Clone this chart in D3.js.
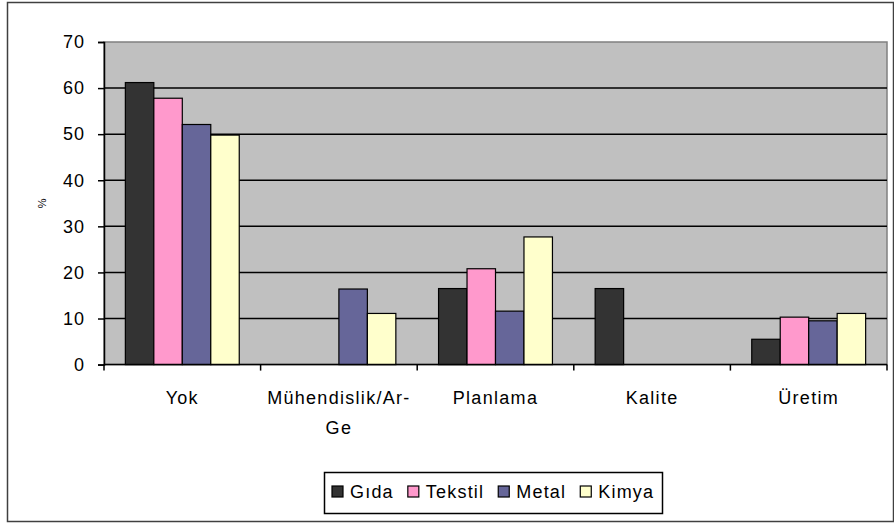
<!DOCTYPE html>
<html>
<head>
<meta charset="utf-8">
<script src="https://cdn.jsdelivr.net/npm/d3@7"></script>
<style>
  body { margin: 0; background: #fff; }
  text { font-family: Arial, "Liberation Sans", sans-serif; }
</style>
</head>
<body>
<script>
// data
const categories = ["Yok", "Mühendislik/Ar-Ge", "Planlama", "Kalite", "Üretim"]
const series = ["Gıda", "Tekstil", "Metal", "Kimya"]
const gida    = [61.2, 0,    16.5, 16.5, 5.5]
const tekstil = [57.8, 0,    20.8, 0,    10.3]
const metal   = [52.1, 16.4, 11.6, 0,    9.5]
const kimya   = [49.8, 11.1, 27.7, 0,    11.1]
const yTicks = [0, 10, 20, 30, 40, 50, 60, 70]
const colors = ["#333333", "#FF99CC", "#666699", "#FFFFCC"]

const values = [gida, tekstil, metal, kimya]

const width = 894, height = 525
const plot = {left: 104, right: 887, top: 42, bottom: 364.6}

let svg = d3.select("body")
  .append("svg")
  .attr("width", width)
  .attr("height", height)

// outer chart border
svg.append("rect")
  .attr("x", 7.5).attr("y", 2.5)
  .attr("width", 886).attr("height", 519)
  .attr("fill", "#fff")
  .attr("stroke", "#404040")
  .attr("stroke-width", 1.5)

// scales
const x0 = d3.scaleBand()
  .domain(categories)
  .range([plot.left, plot.right])

const bw = x0.bandwidth()
const gap = bw * 1.5 / 5.5
const x1 = d3.scaleBand()
  .domain(series)
  .range([gap / 2, bw - gap / 2])

const y = d3.scaleLinear()
  .domain([0, 70])
  .range([plot.bottom, plot.top])

// plot background
svg.append("rect")
  .attr("x", plot.left).attr("y", plot.top)
  .attr("width", plot.right - plot.left)
  .attr("height", plot.bottom - plot.top)
  .attr("fill", "#C0C0C0")
  .attr("stroke", "#808080")
  .attr("stroke-width", 1.5)

// gridlines
svg.append("g")
  .selectAll("line")
  .data(yTicks.filter(d => d > 0 && d < 70))
  .enter()
  .append("line")
  .attr("x1", plot.left).attr("x2", plot.right)
  .attr("y1", d => y(d)).attr("y2", d => y(d))
  .attr("stroke", "#000")
  .attr("stroke-width", 1.5)

// bars
const groups = svg.append("g")
  .selectAll("g")
  .data(series)
  .enter()
  .append("g")
  .attr("fill", (d, i) => colors[i])

groups.each(function(s, si) {
  d3.select(this).selectAll("rect")
    .data(categories.map((c, ci) => ({cat: c, v: values[si][ci]})).filter(d => d.v > 0))
    .enter()
    .append("rect")
    .attr("x", d => x0(d.cat) + x1(s))
    .attr("y", d => y(d.v))
    .attr("width", x1.bandwidth())
    .attr("height", d => y(0) - y(d.v))
    .attr("stroke", "#000")
    .attr("stroke-width", 1.2)
})

// y axis
const yAxis = svg.append("g")
  .attr("transform", `translate(${plot.left},0)`)
  .call(d3.axisLeft(y).tickValues(yTicks).tickSize(6).tickPadding(13))
yAxis.select(".domain").attr("stroke", "#000").attr("stroke-width", 1.5)
yAxis.selectAll(".tick line").attr("stroke", "#000").attr("stroke-width", 1.5)
yAxis.selectAll(".tick text")
  .attr("fill", "#000")
  .style("font-size", "18px")
  .style("letter-spacing", "1px")

// x axis: ticks on category boundaries
const xAxis = svg.append("g")
xAxis.append("line")
  .attr("x1", plot.left).attr("x2", plot.right)
  .attr("y1", y(0)).attr("y2", y(0))
  .attr("stroke", "#000").attr("stroke-width", 1.5)
xAxis.selectAll(".xtick")
  .data(categories.concat(["end"]))
  .enter()
  .append("line")
  .attr("x1", d => d == "end" ? plot.right : x0(d))
  .attr("x2", d => d == "end" ? plot.right : x0(d))
  .attr("y1", y(0)).attr("y2", y(0) + 6)
  .attr("stroke", "#000").attr("stroke-width", 1.5)

// category labels, wrapped after "Ar-"
function wrap(label) {
  const i = label.indexOf("Ar-")
  return i > 0 ? [label.slice(0, i + 3), label.slice(i + 3)] : [label]
}
xAxis.selectAll(".xlabel")
  .data(categories)
  .enter()
  .append("text")
  .attr("text-anchor", "middle")
  .style("font-size", "18px")
  .style("letter-spacing", "1.3px")
  .each(function(d) {
    const t = d3.select(this)
    wrap(d).forEach((line, i) => {
      t.append("tspan")
        .attr("x", x0(d) + bw / 2)
        .attr("y", 403.5 + i * 30)
        .text(line)
    })
  })

// y axis title
svg.append("text")
  .text("%")
  .attr("transform", `translate(46, ${(plot.top + plot.bottom) / 2}) rotate(-90)`)
  .attr("text-anchor", "middle")
  .style("font-size", "11px")

// legend
const legend = svg.append("g")
legend.append("rect")
  .attr("x", 324.5).attr("y", 472.5)
  .attr("width", 338).attr("height", 41)
  .attr("fill", "#fff")
  .attr("stroke", "#000")
  .attr("stroke-width", 1.5)

let lx = 332
series.forEach((s, i) => {
  legend.append("rect")
    .attr("x", lx).attr("y", 486)
    .attr("width", 11).attr("height", 11)
    .attr("fill", colors[i])
    .attr("stroke", "#000")
    .attr("stroke-width", 1.2)
  const t = legend.append("text")
    .text(s)
    .attr("x", lx + 18)
    .attr("y", 498)
    .style("font-size", "18px")
    .style("letter-spacing", "1.2px")
  lx += 18 + t.node().getComputedTextLength() + 14
})
</script>
</body>
</html>
